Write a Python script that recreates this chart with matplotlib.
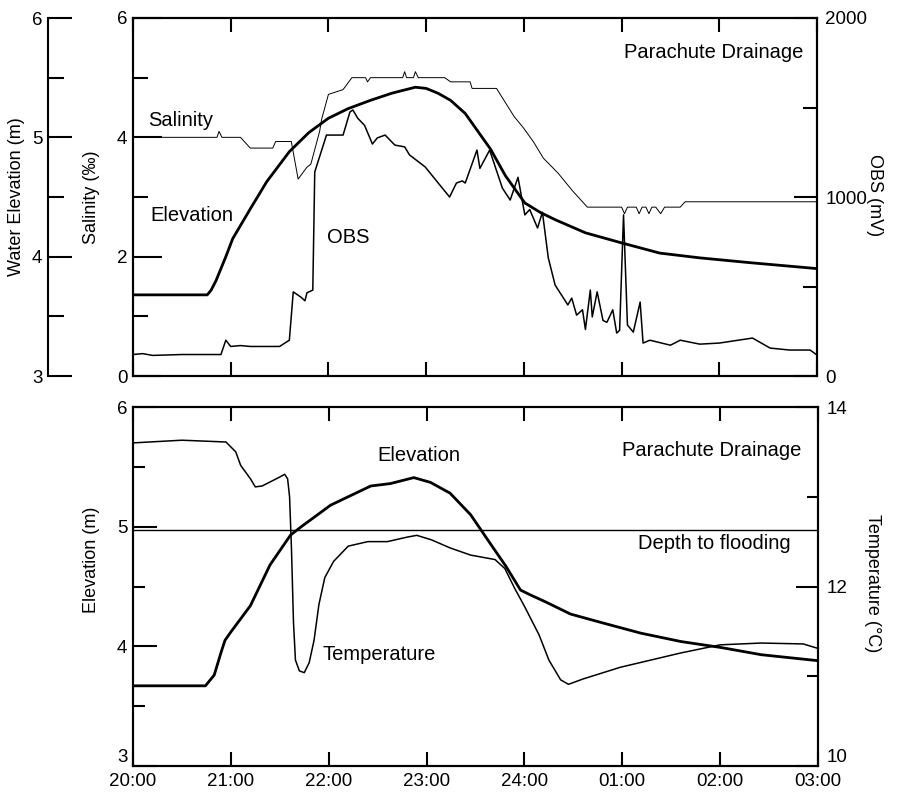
import matplotlib.pyplot as plt
import numpy as np

plt.rcParams['font.family'] = ['Liberation Sans', 'DejaVu Sans']

# hours after 20:00
elev_top_t = [0, 0.76, 0.8, 0.85, 0.95, 1.02, 1.2, 1.37, 1.6, 1.8, 2.0, 2.2, 2.43, 2.65, 2.89, 3.0,
              3.12, 3.25, 3.40, 3.66, 3.81, 4.01, 4.17, 4.32, 4.63, 4.98, 5.39, 5.80, 6.31, 7.0]
elev_top = [3.68, 3.68, 3.72, 3.8, 4.0, 4.15, 4.4, 4.63, 4.88, 5.04, 5.16, 5.24, 5.31, 5.37, 5.42, 5.41,
            5.37, 5.31, 5.2, 4.9, 4.68, 4.45, 4.37, 4.31, 4.2, 4.12, 4.03, 3.99, 3.95, 3.9]

sal_t = [0, 0.86, 0.88, 0.91, 1.1, 1.2, 1.43, 1.46, 1.62, 1.69, 1.78, 1.82, 1.91, 1.93, 2.0,
         2.15, 2.24, 2.38, 2.4, 2.43, 2.76, 2.78, 2.8, 2.87, 2.89, 2.92, 3.19, 3.25, 3.45, 3.47,
         3.72, 3.9, 4.0, 4.1, 4.2, 4.35, 4.5, 4.6, 4.65, 5.0, 5.03, 5.06, 5.15, 5.18, 5.21,
         5.25, 5.28, 5.31, 5.35, 5.40, 5.44, 5.6, 5.65, 7.0]
sal = [4.0, 4.0, 4.1, 4.0, 4.0, 3.82, 3.82, 3.93, 3.93, 3.3, 3.5, 3.55, 4.1, 4.3, 4.72,
       4.8, 5.0, 5.0, 4.93, 5.0, 5.0, 5.1, 5.0, 5.0, 5.1, 5.0, 5.0, 4.93, 4.93, 4.82,
       4.82, 4.35, 4.15, 3.92, 3.65, 3.4, 3.1, 2.92, 2.83, 2.83, 2.72, 2.83, 2.83, 2.72, 2.83,
       2.83, 2.72, 2.83, 2.83, 2.72, 2.83, 2.83, 2.92, 2.92]

obs_t = [0, 0.1, 0.2, 0.5, 0.9, 0.95, 1.0, 1.1, 1.2, 1.5, 1.6, 1.64, 1.72, 1.76, 1.78, 1.84,
         1.86, 1.98, 2.15, 2.22, 2.25, 2.3, 2.37, 2.45, 2.5, 2.58, 2.68, 2.78, 2.83, 2.99, 3.14,
         3.24, 3.31, 3.37, 3.4, 3.52, 3.55, 3.65, 3.78, 3.86, 3.94, 4.01, 4.06, 4.14, 4.19,
         4.25, 4.32, 4.45, 4.49, 4.54, 4.6, 4.63, 4.68, 4.7, 4.75, 4.81, 4.85, 4.91, 4.95,
         4.98, 5.02, 5.06, 5.12, 5.19, 5.22, 5.29, 5.5, 5.6, 5.8, 6.0, 6.34, 6.52, 6.72, 6.93, 7.0]
obs = [120, 125, 115, 120, 120, 200, 165, 170, 165, 165, 200, 470, 440, 420, 465, 480,
       1140, 1346, 1346, 1475, 1486, 1440, 1400, 1296, 1330, 1346, 1290, 1280, 1235, 1168, 1067,
       1000, 1078, 1090, 1078, 1262, 1160, 1262, 1050, 983, 1110, 900, 930, 827, 915,
       660, 508, 397, 435, 340, 370, 260, 480, 330, 470, 310, 300, 370, 240,
       255, 900, 285, 245, 413, 184, 200, 172, 200, 178, 184, 212, 156, 145, 145, 117]

elev_bot_t = [0, 0.74, 0.83, 0.9, 0.94, 1.0, 1.2, 1.4, 1.61, 1.72, 2.02, 2.43, 2.63, 2.87, 3.04,
              3.24, 3.45, 3.65, 3.81, 3.96, 4.06, 4.22, 4.47, 4.78, 5.19, 5.6, 6.01, 6.42, 7.0]
elev_bot = [3.67, 3.67, 3.76, 3.95, 4.05, 4.12, 4.34, 4.68, 4.93, 5.0, 5.18, 5.34, 5.36, 5.41, 5.37,
            5.28, 5.1, 4.86, 4.67, 4.47, 4.43, 4.37, 4.27, 4.2, 4.11, 4.04, 3.99, 3.93, 3.88]

temp_t = [0, 0.5, 0.95, 1.05, 1.1, 1.2, 1.25, 1.32, 1.5, 1.55, 1.58, 1.6, 1.62, 1.64, 1.66, 1.7,
          1.75, 1.8, 1.85, 1.9, 1.96, 2.05, 2.2, 2.4, 2.6, 2.8, 2.9, 3.05, 3.24, 3.45, 3.7, 3.8,
          3.9, 4.0, 4.15, 4.25, 4.37, 4.45, 4.6, 4.98, 5.29, 5.6, 6.0, 6.42, 6.85, 7.0]
temp = [13.6, 13.63, 13.61, 13.5, 13.35, 13.2, 13.11, 13.12, 13.22, 13.25, 13.2, 13.0, 12.4, 11.6, 11.18, 11.06,
        11.04, 11.15, 11.4, 11.8, 12.1, 12.28, 12.45, 12.5, 12.5, 12.55, 12.57, 12.52, 12.43, 12.35, 12.3, 12.2,
        11.98, 11.78, 11.46, 11.18, 10.96, 10.91, 10.97, 11.1, 11.18, 11.26, 11.35, 11.37, 11.36, 11.31]

flood_depth = 4.97
hour_labels = ["20:00", "21:00", "22:00", "23:00", "24:00", "01:00", "02:00", "03:00"]

W, H = 900, 796
fig = plt.figure(figsize=(W / 100, H / 100), dpi=100)
PX = 0.72  # points per pixel


def rect(x0, y0, x1, y1):
    return [x0 / W, 1 - y1 / H, (x1 - x0) / W, (y1 - y0) / H]


fs = 14.5   # annotations
nfs = 13.5  # tick numbers
lfs = 13
lw_spine = 1.5

# ---------- top panel ----------
ax1 = fig.add_axes(rect(133, 18, 817, 376))
ax1.plot(sal_t, sal, color='black', lw=0.7)
ax1.set_xlim(0, 7)
ax1.set_ylim(0, 6)
ax1.set_xticks(range(8))
ax1.set_xticklabels([])
ax1.tick_params(axis='x', direction='in', length=14 * PX, width=1.5, top=True)
ax1.set_yticks([0, 2, 4, 6])
ax1.set_yticks([1, 3, 5], minor=True)
ax1.tick_params(axis='y', which='major', direction='in', length=29 * PX, width=1.5, labelsize=nfs, pad=4)
ax1.tick_params(axis='y', which='minor', direction='in', length=15 * PX, width=1.5)

ax_obs = ax1.twinx()
ax_obs.plot(obs_t, obs, color='black', lw=1.1)
ax_obs.set_ylim(0, 2000)
ax_obs.set_yticks([0, 1000, 2000])
ax_obs.set_yticks([500, 1500], minor=True)
ax_obs.tick_params(axis='y', which='major', direction='in', length=23 * PX, width=1.5, labelsize=nfs, pad=6)
ax_obs.tick_params(axis='y', which='minor', direction='in', length=14 * PX, width=1.5)

ax_we = ax1.twinx()
ax_we.plot(elev_top_t, elev_top, color='black', lw=2)
ax_we.set_ylim(3, 6)
ax_we.yaxis.set_ticks_position('left')
ax_we.yaxis.set_label_position('left')
ax_we.spines['left'].set_position(('outward', 85 * PX))
for s in ['right', 'top', 'bottom']:
    ax_we.spines[s].set_visible(False)
ax_we.set_yticks([3, 4, 5, 6])
ax_we.set_yticks([3.5, 4.5, 5.5], minor=True)
ax_we.tick_params(axis='y', which='major', direction='in', length=24 * PX, width=1.5, labelsize=nfs, pad=4)
ax_we.tick_params(axis='y', which='minor', direction='in', length=16 * PX, width=1.5)

for a in (ax1, ax_obs, ax_we):
    for s in a.spines.values():
        s.set_linewidth(lw_spine)

ax1.text(0.022, 0.715, "Salinity", transform=ax1.transAxes, fontsize=fs, va='center')
ax1.text(0.025, 0.447, "Elevation", transform=ax1.transAxes, fontsize=fs, va='center')
ax1.text(0.284, 0.388, "OBS", transform=ax1.transAxes, fontsize=fs, va='center')
ax1.text(0.98, 0.905, "Parachute Drainage", transform=ax1.transAxes, fontsize=fs,
         va='center', ha='right')

fig.text(17 / W, 1 - 197 / H, "Water Elevation (m)", rotation=90, fontsize=lfs,
         ha='center', va='center')
fig.text(92 / W, 1 - 197 / H, "Salinity (‰)", rotation=90, fontsize=lfs, ha='center', va='center')
fig.text(874 / W, 1 - 195 / H, "OBS (mV)", rotation=270, fontsize=lfs, ha='center', va='center')

# ---------- bottom panel ----------
ax2 = fig.add_axes(rect(133, 407, 818, 766))
ax2.plot(elev_bot_t, elev_bot, color='black', lw=2)
ax2.axhline(flood_depth, color='black', lw=1)
ax2.set_xlim(0, 7)
ax2.set_ylim(3, 6)
ax2.set_xticks(range(8))
ax2.set_xticklabels(hour_labels, fontsize=nfs)
ax2.tick_params(axis='x', direction='in', length=14 * PX, width=1.5, top=True, pad=5)
ax2.set_yticks([3, 4, 5, 6])
ax2.set_yticks([3.5, 4.5, 5.5], minor=True)
ax2.tick_params(axis='y', which='major', direction='in', length=24 * PX, width=1.5, labelsize=nfs, pad=4)
ax2.tick_params(axis='y', which='minor', direction='in', length=12 * PX, width=1.5)
ax2.get_yticklabels()[0].set_va('bottom')

ax_t = ax2.twinx()
ax_t.plot(temp_t, temp, color='black', lw=1.1)
ax_t.set_ylim(10, 14)
ax_t.set_yticks([10, 12, 14])
ax_t.set_yticks([11, 13], minor=True)
ax_t.tick_params(axis='y', which='major', direction='in', length=22 * PX, width=1.5, labelsize=nfs, pad=6)
ax_t.tick_params(axis='y', which='minor', direction='in', length=11 * PX, width=1.5)
ax_t.get_yticklabels()[0].set_va('bottom')

for a in (ax2, ax_t):
    for s in a.spines.values():
        s.set_linewidth(lw_spine)

ax2.text(0.357, 0.866, "Elevation", transform=ax2.transAxes, fontsize=fs, va='center')
ax2.text(0.975, 0.88, "Parachute Drainage", transform=ax2.transAxes, fontsize=fs,
         va='center', ha='right')
ax2.text(0.96, 0.62, "Depth to flooding", transform=ax2.transAxes, fontsize=fs,
         va='center', ha='right')
ax2.text(0.276, 0.31, "Temperature", transform=ax2.transAxes, fontsize=fs, va='center')

fig.text(92 / W, 1 - 560 / H, "Elevation (m)", rotation=90, fontsize=lfs, ha='center', va='center')
fig.text(872 / W, 1 - 583 / H, "Temperature (°C)", rotation=270, fontsize=lfs,
         ha='center', va='center')

fig.savefig("out.png", dpi=100)
